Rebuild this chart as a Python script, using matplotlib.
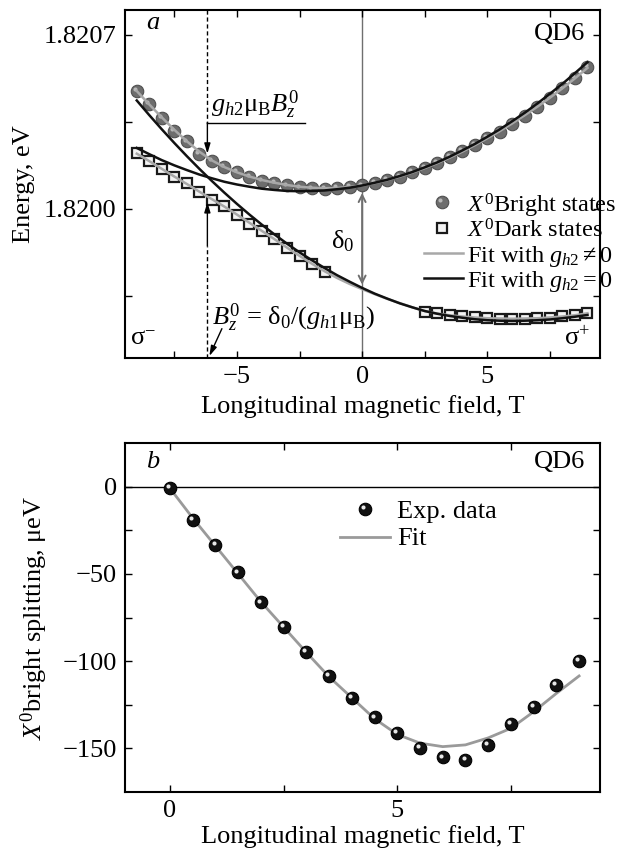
import numpy as np
import matplotlib
matplotlib.use('Agg')
import matplotlib.pyplot as plt
from matplotlib.ticker import FixedLocator, FormatStrFormatter
from matplotlib.transforms import ScaledTranslation

plt.rcParams['font.family'] = ['Liberation Serif', 'DejaVu Serif']
plt.rcParams['mathtext.fontset'] = 'custom'
plt.rcParams['mathtext.rm'] = 'Liberation Serif'
plt.rcParams['mathtext.it'] = 'Liberation Serif:italic'
plt.rcParams['mathtext.bf'] = 'Liberation Serif:bold'
plt.rcParams['mathtext.fallback'] = 'stix'
plt.rcParams['axes.unicode_minus'] = True

FS = 19
FS_LEG = 17.5

# ---------------- Panel a data (energies as offsets from 1.8200 eV, in micro-eV)
E_base = 1.8200
B_a = [-9.0, -8.5, -8.0, -7.5, -7.0, -6.5, -6.0, -5.5, -5.0, -4.5, -4.0, -3.5,
       -3.0, -2.5, -2.0, -1.5, -1.0, -0.5, 0.0, 0.5, 1.0, 1.5, 2.0, 2.5, 3.0,
       3.5, 4.0, 4.5, 5.0, 5.5, 6.0, 6.5, 7.0, 7.5, 8.0, 8.5, 9.0]
bright_ueV = [474, 421, 367, 314, 271, 221, 192, 167, 149, 129, 114, 104, 94, 86,
              82, 81, 83, 87, 94, 105, 117, 130, 147, 165, 183, 207, 231, 258,
              285, 311, 341, 374, 410, 445, 487, 525, 570]
B_dark = [-9.0, -8.5, -8.0, -7.5, -7.0, -6.5, -6.0, -5.5, -5.0, -4.5, -4.0, -3.5,
          -3.0, -2.5, -2.0, -1.5,
          2.5, 3.0, 3.5, 4.0, 4.5, 5.0, 5.5, 6.0, 6.5, 7.0, 7.5, 8.0, 8.5, 9.0]
dark_ueV = [223, 194, 161, 130, 103, 67, 37, 10, -26, -59, -89, -123, -159, -190,
            -222, -253,
            -413, -420, -427, -432, -437, -440, -442, -442, -442, -441, -438,
            -433, -428, -417]
fit_gray_bright = [474, 420, 368, 318, 272, 230, 195, 168, 147, 130, 116, 105, 96,
                   89, 85, 83, 84, 88, 94, 104, 116, 130, 146, 164, 184, 206, 230,
                   256, 284, 313, 344, 377, 411, 447, 485, 525, 567]
fit_gray_dark = [222, 192, 161, 130, 100, 69, 39, 9, -23, -56, -89, -122, -156,
                 -189, -221, -251, -278, -302, -323, -343, -362, -379, -396, -411,
                 -421, -428, -433, -437, -440, -441, -442, -441, -440, -437, -433,
                 -428, -420]
fit_black_1 = [245, 220, 196, 175, 156, 138, 123, 109, 98, 89, 81, 76, 72, 71, 72,
               74, 79, 85, 94, 105, 117, 132, 148, 167, 187, 210, 235, 261, 290,
               320, 353, 387, 424, 463, 503, 546, 590]
fit_black_2 = [436, 377, 320, 265, 212, 161, 112, 65, 20, -23, -64, -103, -140,
               -175, -207, -238, -267, -293, -318, -341, -361, -380, -396, -411,
               -422, -431, -438, -444, -448, -450, -451, -450, -448, -445, -440,
               -434, -427]
legend_a = [r'$X^0$Bright states', r'$X^0$Dark states',
            r'Fit with $g_{h2} \neq 0$', r'Fit with $g_{h2} = 0$']

# ---------------- Panel b data (micro-eV)
B_b = [0.0, 0.5, 1.0, 1.5, 2.0, 2.5, 3.0, 3.5, 4.0, 4.5, 5.0, 5.5, 6.0, 6.5, 7.0,
       7.5, 8.0, 8.5, 9.0]
split_exp = [-1, -19, -33.4, -49.2, -66.4, -80.2, -94.5, -108.4, -121.2, -132.3,
             -141.2, -149.8, -155.2, -156.5, -147.9, -135.9, -126.3, -113.9, -99.8]
split_fit = [-1, -18, -34, -50, -66, -80.5, -95, -109, -121, -133, -142, -147,
             -149, -148, -144, -138.5, -129, -118.5, -108.5]
legend_b = ['Exp. data', 'Fit']

GRAY_FIT = '#a8a8a8'
BLACK_FIT = '#111111'


def eV(arr):
    return E_base + np.asarray(arr, dtype=float) * 1e-6


fig = plt.figure(figsize=(6.37, 8.56), dpi=100)
W, H = 637.0, 856.0
axa = fig.add_axes([125 / W, 1 - 358 / H, 475 / W, 348 / H])
axb = fig.add_axes([125 / W, 1 - 792 / H, 475 / W, 349 / H])


def style_axes(ax):
    for s in ax.spines.values():
        s.set_linewidth(1.5)
    ax.tick_params(which='both', direction='in', top=True, right=True,
                   length=5, width=1.0, labelsize=FS, pad=6)


def ball(ax, x, y, face, edge, hi, ms, transform=None, clip=True):
    base = ax.transData if transform is None else transform
    ax.plot(x, y, 'o', ms=ms, mfc=face, mec=edge, mew=0.8, zorder=3,
            linestyle='none', transform=base, clip_on=clip)
    off = base + ScaledTranslation(-1.4 / 72, 1.4 / 72, fig.dpi_scale_trans)
    ax.plot(x, y, 'o', ms=ms * 0.33, mfc=hi, mec='none', zorder=3.1,
            transform=off, linestyle='none', clip_on=clip)


# ================= Panel a
style_axes(axa)
axa.set_xlim(-9.47, 9.5)
axa.set_ylim(1.81940, 1.82080)

axa.axvline(0, color='#6f6f6f', lw=1.0, zorder=1)

ball(axa, B_a, eV(bright_ueV), '#6d6d6d', '#505050', '#b8b8b8', 9)
axa.plot(B_dark, eV(dark_ueV), 's', ms=6.5, mfc='#f4f4f4', mec='#1a1a1a', mew=1.6,
         zorder=3, linestyle='none')
axa.plot(B_a, eV(fit_gray_bright), color=GRAY_FIT, lw=1.8, zorder=4)
axa.plot(B_a, eV(fit_gray_dark), color=GRAY_FIT, lw=1.8, zorder=4)
axa.plot(B_a, eV(fit_black_1), color=BLACK_FIT, lw=1.8, zorder=5)
axa.plot(B_a, eV(fit_black_2), color=BLACK_FIT, lw=1.8, zorder=5)

axa.xaxis.set_major_locator(FixedLocator([-5, 0, 5]))
axa.xaxis.set_minor_locator(FixedLocator([-7.5, -2.5, 2.5, 7.5]))
axa.yaxis.set_major_locator(FixedLocator([1.8200, 1.8207]))
axa.yaxis.set_minor_locator(FixedLocator([1.81965, 1.82035]))
axa.yaxis.set_major_formatter(FormatStrFormatter('%.4f'))
axa.set_xlabel('Longitudinal magnetic field, T', fontsize=FS, va='center')
axa.set_ylabel('Energy, eV', fontsize=FS, va='center')
axa.yaxis.set_label_coords(-0.212, 0.5)
axa.xaxis.set_label_coords(0.5, -0.14)

# annotations
Bz0 = -6.18
axa.plot([Bz0, Bz0], [1.82080, eV(347)], ls=(0, (3, 2)), color='k', lw=1.0, zorder=2)
axa.plot([Bz0, Bz0], [1.81940, eV(-150)], ls=(0, (3, 2)), color='k', lw=1.0, zorder=2)
axa.plot([Bz0, -2.3], [eV(347), eV(347)], color='k', lw=1.0, zorder=2)
arr_k = dict(arrowstyle='-|>,head_length=0.6,head_width=0.18', color='k', lw=1.0,
             shrinkA=0, shrinkB=0)
axa.annotate('', xy=(Bz0, eV(222)), xytext=(Bz0, eV(347)), arrowprops=arr_k, zorder=6)
axa.annotate('', xy=(Bz0, eV(27)), xytext=(Bz0, eV(-150)), arrowprops=arr_k, zorder=6)
axa.text(-6.05, eV(352), r'$g_{h2}$μ$_\mathrm{B}$$B_z^0$', fontsize=FS,
         ha='left', va='bottom')
axa.text(-6.0, eV(-438), r'$B_z^0$ = δ$_0$/($g_{h1}$μ$_\mathrm{B}$)', fontsize=FS,
         ha='left', va='center')
axa.annotate('', xy=(-6.1, eV(-592)), xytext=(-5.6, eV(-482)), arrowprops=arr_k)
axa.annotate('', xy=(0, eV(64)), xytext=(0, eV(-305)),
             arrowprops=dict(arrowstyle='<->,head_length=0.5,head_width=0.25',
                             color='#6f6f6f', lw=1.4, shrinkA=0, shrinkB=0), zorder=6)
axa.text(-0.3, eV(-132), 'δ$_0$', fontsize=FS, ha='right', va='center')
axa.text(0.01, 0.036, 'σ$^{-}$', transform=axa.transAxes, fontsize=FS,
         ha='left', va='baseline')
axa.text(0.978, 0.036, 'σ$^{+}$', transform=axa.transAxes, fontsize=FS,
         ha='right', va='baseline')
axa.text(0.044, 0.995, 'a', transform=axa.transAxes, fontsize=FS,
         style='italic', ha='left', va='top')
axa.text(0.968, 0.963, 'QD6', transform=axa.transAxes, fontsize=FS,
         ha='right', va='top')

# legend of panel a (drawn entry by entry so it can overflow the frame like the original)
ta = axa.transAxes
rows_a = [0.448, 0.373, 0.303, 0.230]
mx_a, lx0_a, lx1_a, tx_a = 0.667, 0.630, 0.712, 0.720
ball(axa, [mx_a], [rows_a[0]], '#6d6d6d', '#505050', '#b8b8b8', 9, transform=ta, clip=False)
axa.plot([mx_a], [rows_a[1]], 's', ms=6.5, mfc='#f4f4f4', mec='#1a1a1a', mew=1.6,
         transform=ta, clip_on=False, zorder=3)
axa.plot([lx0_a, lx1_a], [rows_a[2]] * 2, color=GRAY_FIT, lw=1.8, transform=ta,
         clip_on=False)
axa.plot([lx0_a, lx1_a], [rows_a[3]] * 2, color=BLACK_FIT, lw=1.8, transform=ta,
         clip_on=False)
for r, lab in zip(rows_a, legend_a):
    axa.text(tx_a, r, lab, transform=ta, fontsize=FS_LEG, ha='left',
             va='center_baseline', zorder=10, clip_on=False)

# ================= Panel b
style_axes(axb)
axb.set_xlim(-0.99, 9.46)
axb.set_ylim(-175, 25)
axb.axhline(0, color='k', lw=1.0, zorder=1)
axb.plot(B_b, split_fit, color='#9a9a9a', lw=2.0, zorder=2)
ball(axb, B_b, split_exp, '#111111', '#000000', '#e8e8e8', 9)

axb.xaxis.set_major_locator(FixedLocator([0, 5]))
axb.xaxis.set_minor_locator(FixedLocator([2.5, 7.5]))
axb.yaxis.set_major_locator(FixedLocator([-150, -100, -50, 0]))
axb.yaxis.set_minor_locator(FixedLocator([-125, -75, -25]))
axb.set_xlabel('Longitudinal magnetic field, T', fontsize=FS, va='center')
axb.set_ylabel(r'$X^0$bright splitting, μeV', fontsize=FS, va='center')
axb.yaxis.set_label_coords(-0.19, 0.5)
axb.xaxis.set_label_coords(0.5, -0.128)
axb.text(0.044, 0.977, 'b', transform=axb.transAxes, fontsize=FS,
         style='italic', ha='left', va='top')
axb.text(0.968, 0.977, 'QD6', transform=axb.transAxes, fontsize=FS,
         ha='right', va='top')

tb = axb.transAxes
rows_b = [0.81, 0.7315]
ball(axb, [0.505], [rows_b[0]], '#111111', '#000000', '#e8e8e8', 9, transform=tb,
     clip=False)
axb.plot([0.453, 0.558], [rows_b[1]] * 2, color='#9a9a9a', lw=2.0, transform=tb)
for r, lab in zip(rows_b, legend_b):
    axb.text(0.573, r, lab, transform=tb, fontsize=FS, ha='left',
             va='center_baseline')

fig.savefig('out.png', dpi=100)
